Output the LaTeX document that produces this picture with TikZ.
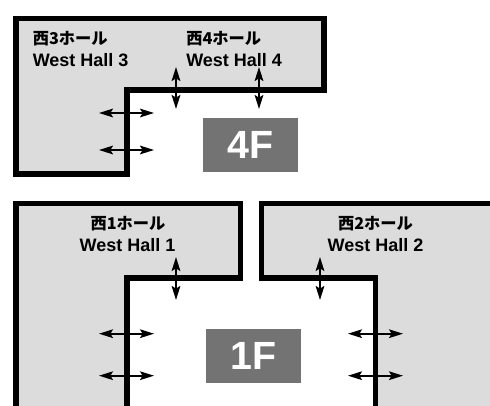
\documentclass[tikz,border=0pt]{standalone}
\usepackage{fontspec}
\setmainfont{Liberation Sans}
\newfontfamily\jpfont{Noto Sans CJK JP}
\usetikzlibrary{arrows.meta}

\tikzset{
    hall/.style={fill=hallgray,draw=black,line width=3.9pt,miter limit=10},
    door/.style={{Stealth[length=10.5pt,width=6.5pt,inset=2pt]}-{Stealth[length=10.5pt,width=6.5pt,inset=2pt]},line width=1.5pt},
    floorbox/.style={fill=boxgray,text=white,font=\bfseries\fontsize{29.5}{29.5}\selectfont,minimum width=70.9pt,minimum height=40.5pt,inner sep=0pt},
    halllabel/.style={inner sep=0pt,font=\bfseries\fontsize{13.5}{16.5}\selectfont},
    hallname/.style={font=\jpfont\bfseries\fontsize{12.2}{16.5}\selectfont}
}
\definecolor{hallgray}{HTML}{DCDCDC}
\definecolor{boxgray}{HTML}{737373}

\begin{document}
\begin{tikzpicture}[x=0.75pt,y=-0.75pt]
    \useasboundingbox (0,0) rectangle (490,406);

    % 4F
    \draw[hall] (16,18.5) -- (324,18.5) -- (324,90) -- (127,90) -- (127,174) -- (16,174) -- cycle;
    \node[floorbox] (floor4) at (250.3,145) {4F};
    \node[halllabel,hallname,anchor=west] (name3) at (32.5,39) {西3ホール};
    \node[halllabel,anchor=west] (hall3) at (32.5,60) {West Hall 3};
    \node[halllabel,hallname,anchor=west] (name4) at (186,39) {西4ホール};
    \node[halllabel,anchor=west] (hall4) at (186,60) {West Hall 4};

    % 1F
    \fill[hallgray] (16,406) -- (16,203.5) -- (240.7,203.5) -- (240.7,278) -- (127,278) -- (127,406) -- cycle;
    \fill[hallgray] (490,203.5) -- (261.3,203.5) -- (261.3,278) -- (375.7,278) -- (375.7,406) -- (490,406) -- cycle;
    \draw[hall,fill=none] (16,406) -- (16,203.5) -- (240.7,203.5) -- (240.7,278) -- (127,278) -- (127,406);
    \draw[hall,fill=none] (490,203.5) -- (261.3,203.5) -- (261.3,278) -- (375.7,278) -- (375.7,406);
    \node[floorbox] (floor1) at (253.3,356) {1F};
    \node[halllabel,hallname] (name1) at (128,224) {西1ホール};
    \node[halllabel] (hall1) at (127.5,245) {West Hall 1};
    \node[halllabel,hallname] (name2) at (375.5,224) {西2ホール};
    \node[halllabel] (hall2) at (375.5,245) {West Hall 2};

    % Doors
    \draw[door] (176,67) -- (176,109);
    \draw[door] (259,67) -- (259,109);
    \draw[door] (99,113) -- (154,113);
    \draw[door] (99,150) -- (154,150);
    \draw[door] (176,257) -- (176,300);
    \draw[door] (320,257) -- (320,300);
    \draw[door] (99,333.7) -- (154,333.7);
    \draw[door] (99,375.7) -- (154,375.7);
    \draw[door] (348,333.7) -- (403,333.7);
    \draw[door] (348,375.7) -- (403,375.7);
\end{tikzpicture}
\end{document}
